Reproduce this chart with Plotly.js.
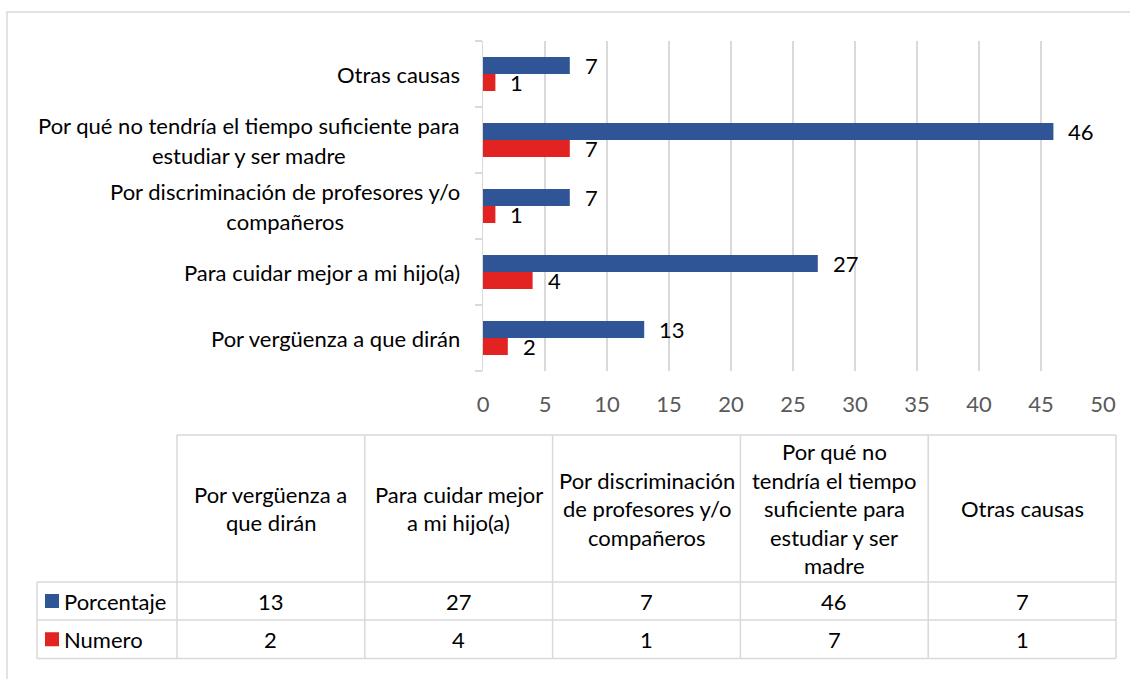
<!DOCTYPE html>
<html>
<head>
<meta charset="utf-8">
<script src="https://cdn.plot.ly/plotly-3.0.1.min.js"></script>
<style>html,body{margin:0;padding:0;background:#fff}</style>
</head>
<body>
<div id="chart" style="width:1130px;height:679px"></div>
<script>
// ---------- DATA ----------
const categories = [
  'Por vergüenza a que dirán',
  'Para cuidar mejor a mi hijo(a)',
  'Por discriminación de profesores y/o compañeros',
  'Por qué no tendría el tiempo suficiente para estudiar y ser madre',
  'Otras causas'
];
const axisLabelLines = [
  ['Por vergüenza a que dirán'],
  ['Para cuidar mejor a mi hijo(a)'],
  ['Por discriminación de profesores y/o', 'compañeros'],
  ['Por qué no tendría el tiempo suficiente para', 'estudiar y ser madre'],
  ['Otras causas']
];
const headerLines = [
  ['Por vergüenza a', 'que dirán'],
  ['Para cuidar mejor', 'a mi hijo(a)'],
  ['Por discriminación', 'de profesores y/o', 'compañeros'],
  ['Por qué no', 'tendría el tiempo', 'suficiente para', 'estudiar y ser', 'madre'],
  ['Otras causas']
];
const porcentaje = [13, 27, 7, 46, 7];
const numero = [2, 4, 1, 7, 1];
const seriesNames = ['Porcentaje', 'Numero'];
const xTickVals = [0, 5, 10, 15, 20, 25, 30, 35, 40, 45, 50];

// ---------- STYLE / GEOMETRY ----------
const W = 1130, H = 679;
const M = {l: 483, r: 27, t: 41, b: 308};
const PW = W - M.l - M.r, PH = H - M.t - M.b;
const xp = px => (px - M.l) / PW;
const yp = py => (H - M.b - py) / PH;
const FONT = 'Lato, "Open Sans", sans-serif';
const FS = 22;
const BLUE = '#2F5597', RED = '#E32222', GRID = '#D9D9D9';
const colors = [BLUE, RED];
const seriesValues = [porcentaje, numero];

// ---------- TRACES (red first so blue sits on top in each group) ----------
const traces = [
  {type: 'bar', orientation: 'h', name: seriesNames[1], y: categories, x: numero,
   marker: {color: RED}, showlegend: false, hoverinfo: 'none'},
  {type: 'bar', orientation: 'h', name: seriesNames[0], y: categories, x: porcentaje,
   marker: {color: BLUE}, showlegend: false, hoverinfo: 'none'}
];

const annotations = [];
const shapes = [];

// data labels
categories.forEach((c, i) => {
  annotations.push({xref: 'x', yref: 'y', x: porcentaje[i], y: c, text: String(porcentaje[i]),
    xanchor: 'left', yanchor: 'middle', xshift: 13, yshift: 8.5, showarrow: false,
    font: {family: FONT, size: FS, color: '#000'}});
  annotations.push({xref: 'x', yref: 'y', x: numero[i], y: c, text: String(numero[i]),
    xanchor: 'left', yanchor: 'middle', xshift: 13, yshift: -8.5, showarrow: false,
    font: {family: FONT, size: FS, color: '#000'}});
});

// y axis category labels (centered lines, block right-aligned)
categories.forEach((c, i) => {
  const txt = axisLabelLines[i].map(l => '<span style="font-size:' + FS + 'px">' + l + '</span>').join('<br>');
  annotations.push({xref: 'paper', yref: 'y', x: xp(462), y: c, text: txt,
    xanchor: 'right', yanchor: 'middle', align: 'center', showarrow: false,
    font: {family: FONT, size: 23, color: '#000'}});
});

// ---------- DATA TABLE ----------
const tLeft = 37, tFirst = 177, tRight = 1116;
const tTop = 435, tHead = 582, tRow1 = 620, tBot = 658.5;
const colW = (tRight - tFirst) / categories.length;
const lineStyle = {color: GRID, width: 1.5};
function hline(py, x0, x1) { shapes.push({type: 'line', xref: 'paper', yref: 'paper', x0: xp(x0), x1: xp(x1), y0: yp(py), y1: yp(py), line: lineStyle}); }
function vline(px, y0, y1) { shapes.push({type: 'line', xref: 'paper', yref: 'paper', x0: xp(px), x1: xp(px), y0: yp(y0), y1: yp(y1), line: lineStyle}); }
hline(tTop, tFirst, tRight);
hline(tHead, tLeft, tRight);
hline(tRow1, tLeft, tRight);
hline(tBot, tLeft, tRight);
vline(tLeft, tHead, tBot);
for (let i = 0; i <= categories.length; i++) vline(tFirst + i * colW, tTop, tBot);

// header texts
const headCenter = (tTop + tHead) / 2, LH = 28.5;
headerLines.forEach((lines, i) => {
  const cx = tFirst + (i + 0.5) * colW;
  lines.forEach((l, k) => {
    const cy = headCenter + (k - (lines.length - 1) / 2) * LH;
    annotations.push({xref: 'paper', yref: 'paper', x: xp(cx), y: yp(cy), text: l,
      xanchor: 'center', yanchor: 'middle', showarrow: false,
      font: {family: FONT, size: FS, color: '#000'}});
  });
});

// value rows + legend keys
const rowCenters = [(tHead + tRow1) / 2, (tRow1 + tBot) / 2];
seriesNames.forEach((name, r) => {
  const cy = rowCenters[r];
  shapes.push({type: 'rect', xref: 'paper', yref: 'paper', x0: xp(45), x1: xp(59), y0: yp(cy - 7), y1: yp(cy + 7),
    fillcolor: colors[r], line: {width: 0}});
  annotations.push({xref: 'paper', yref: 'paper', x: xp(62), y: yp(cy), text: name,
    xanchor: 'left', yanchor: 'middle', showarrow: false,
    font: {family: FONT, size: FS, color: '#000'}});
  seriesValues[r].forEach((v, i) => {
    const cx = tFirst + (i + 0.5) * colW;
    annotations.push({xref: 'paper', yref: 'paper', x: xp(cx), y: yp(cy), text: String(v),
      xanchor: 'center', yanchor: 'middle', showarrow: false,
      font: {family: FONT, size: FS, color: '#000'}});
  });
});

// outer chart border
shapes.push({type: 'rect', xref: 'paper', yref: 'paper', x0: xp(7), x1: xp(1140), y0: yp(12), y1: yp(700),
  line: {color: GRID, width: 1.5}, fillcolor: 'rgba(0,0,0,0)'});

const layout = {
  width: W, height: H,
  margin: M,
  paper_bgcolor: '#fff', plot_bgcolor: '#fff',
  barmode: 'group', bargap: 0.485, bargroupgap: 0,
  font: {family: FONT, size: FS, color: '#000'},
  xaxis: {range: [0, 50], tickvals: xTickVals, ticktext: xTickVals.map(String),
    showgrid: true, gridcolor: GRID, gridwidth: 1.2, zeroline: false, showline: false,
    ticks: 'outside', ticklen: 14, tickcolor: 'rgba(0,0,0,0)',
    tickfont: {family: FONT, size: FS, color: '#595959'}, fixedrange: true},
  yaxis: {type: 'category', categoryorder: 'array', categoryarray: categories,
    showticklabels: false, showgrid: false, zeroline: false,
    showline: true, linecolor: GRID, linewidth: 1.5,
    ticks: 'outside', tickson: 'boundaries', ticklen: 7, tickcolor: GRID, tickwidth: 1.5,
    fixedrange: true},
  annotations: annotations,
  shapes: shapes,
  showlegend: false
};

Plotly.newPlot('chart', traces, layout, {staticPlot: true, displayModeBar: false});
</script>
</body>
</html>
